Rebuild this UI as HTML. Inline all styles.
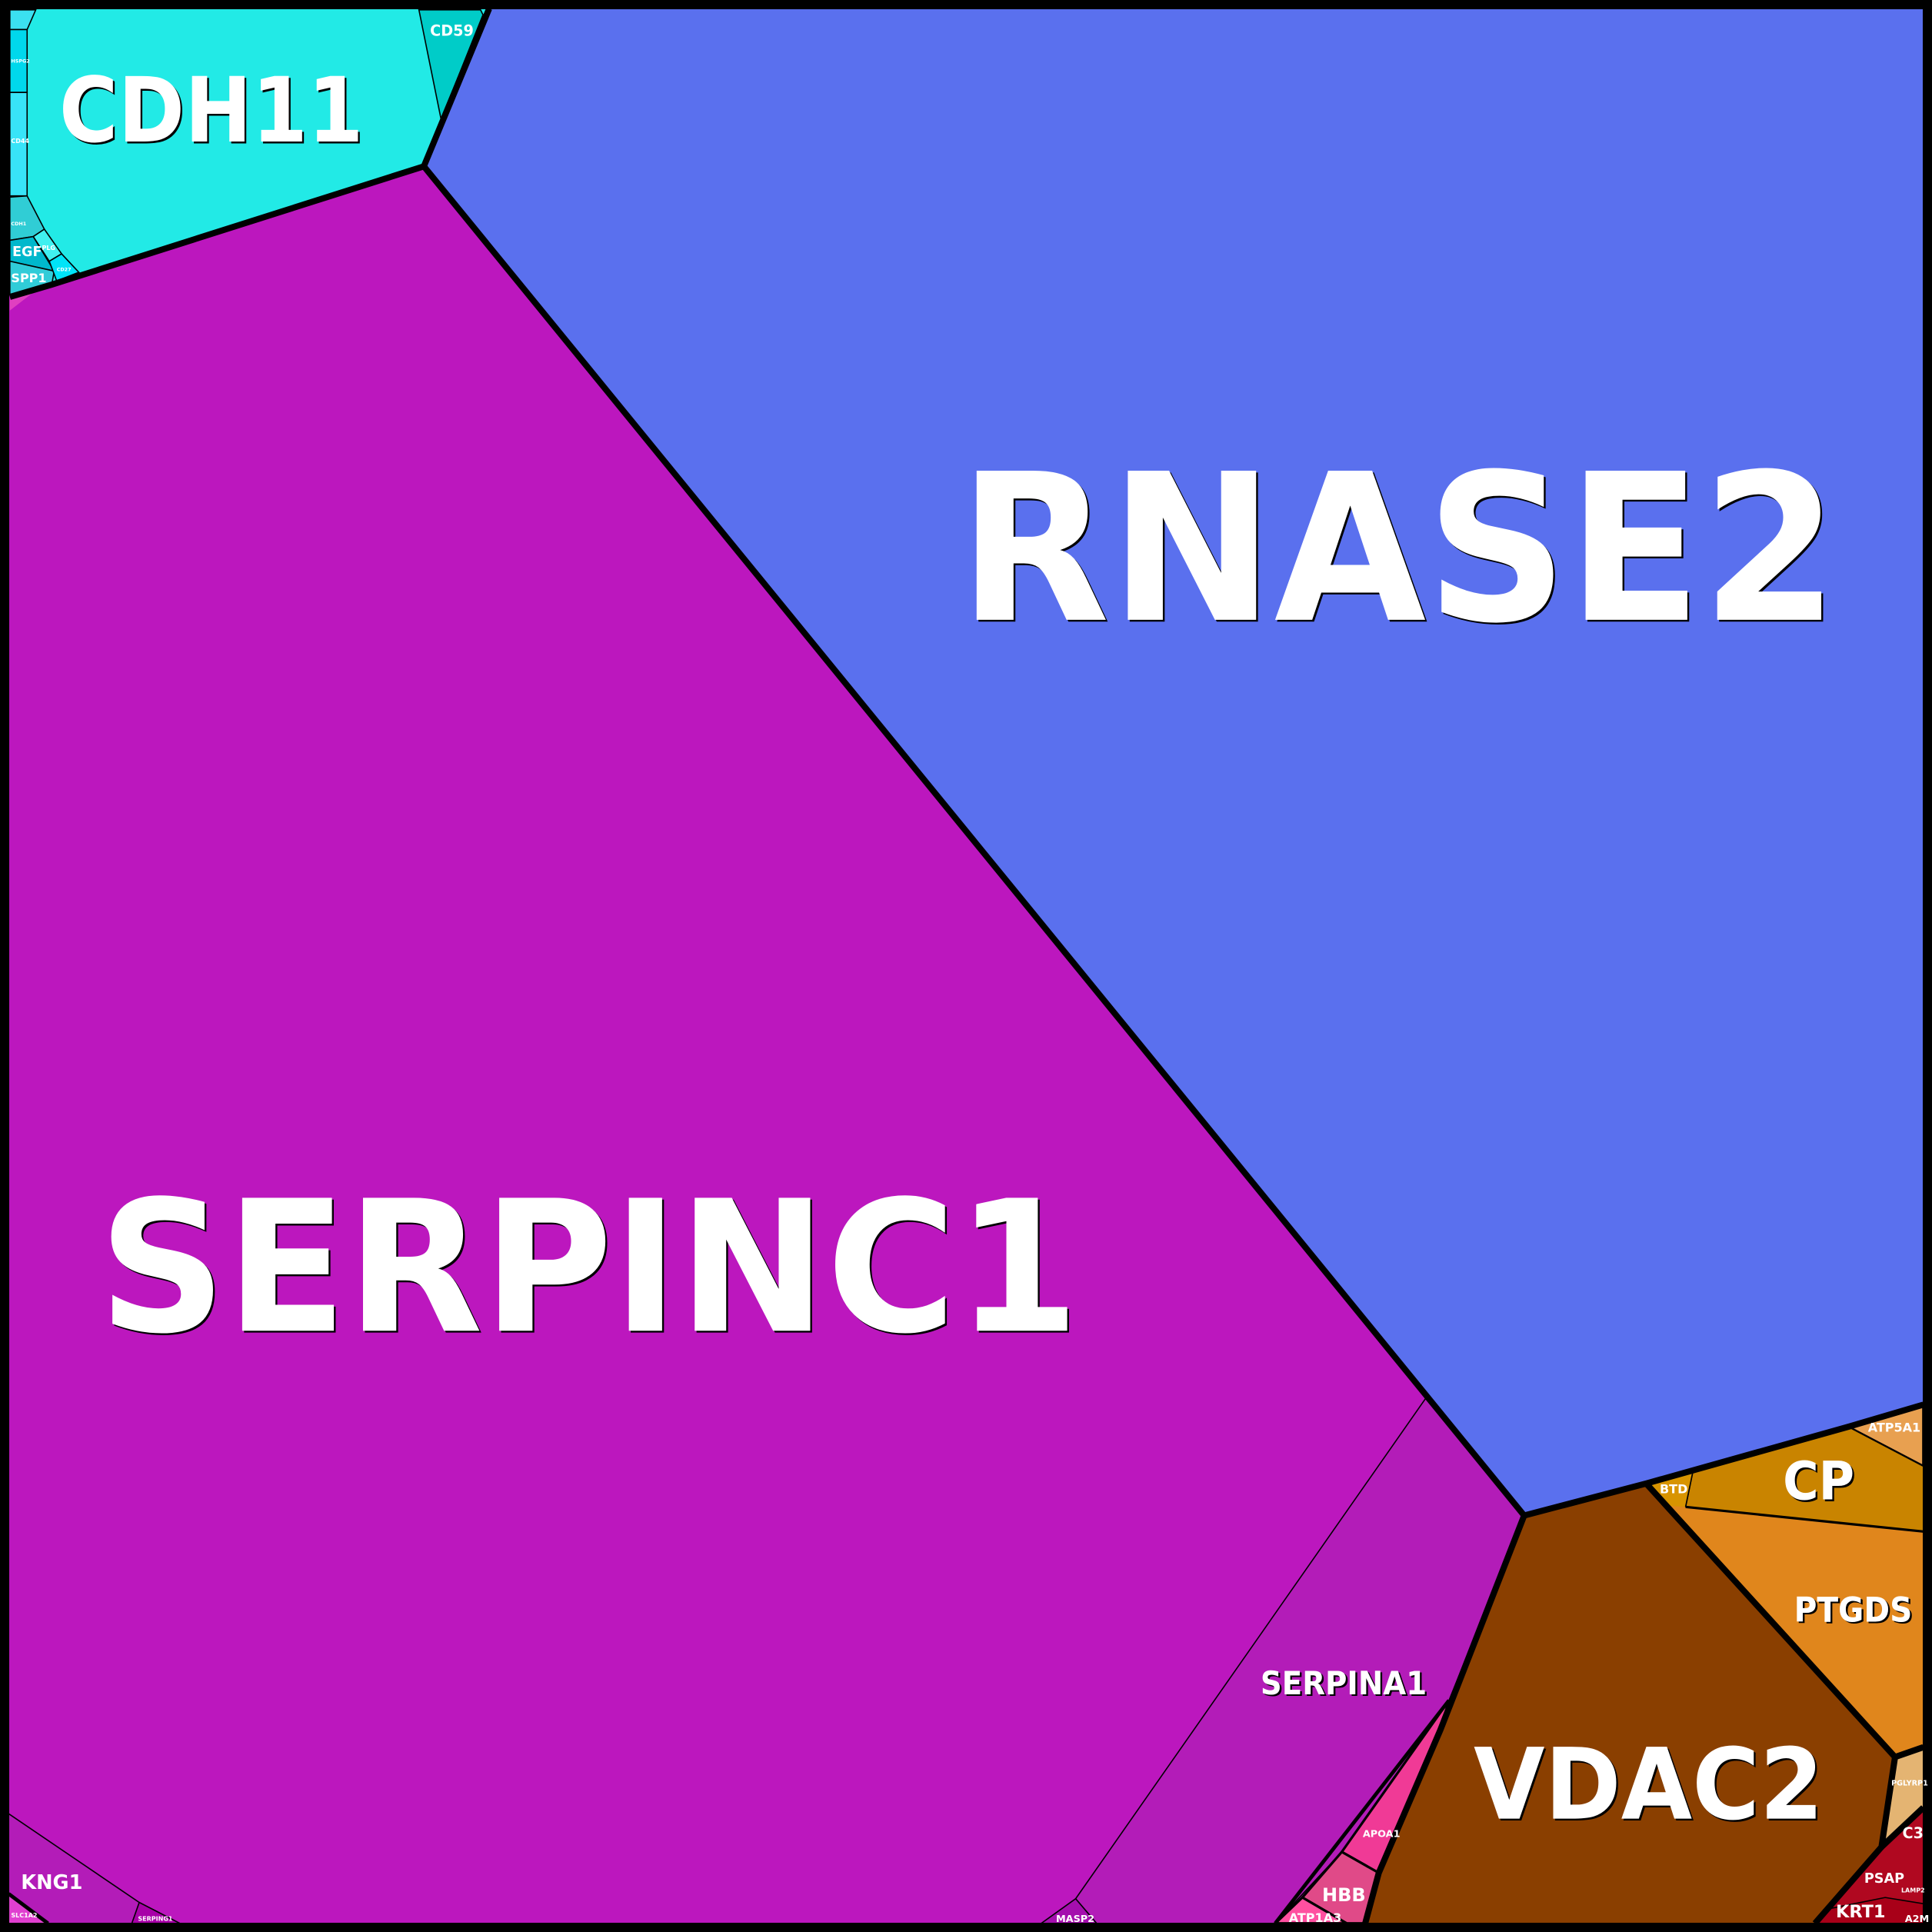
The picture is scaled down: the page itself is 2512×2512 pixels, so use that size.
<!DOCTYPE html>
<html><head><meta charset="utf-8"><style>
html,body{margin:0;padding:0;background:#000;}
svg{display:block;}
text{font-family:"DejaVu Sans","Liberation Sans",sans-serif;font-weight:bold;}
</style></head><body>
<svg width="2512" height="2512" viewBox="0 0 1568 1568" xmlns="http://www.w3.org/2000/svg">
<rect x="0" y="0" width="1568" height="1568" fill="#000"/>
<rect x="7" y="7" width="1554" height="1554" fill="#BC17BE"/>
<polygon points="1157,1135 1237,1230 1176,1380 1089,1503 1035,1561 890,1561 873,1541" fill="#B31CB8" stroke="#000" stroke-width="1"/>
<polygon points="873,1541 845,1561 890,1561" fill="#A50FAE" stroke="#000" stroke-width="1"/>
<polygon points="7,1472 113,1544 146,1561 7,1561" fill="#B31CB8" stroke="#000" stroke-width="1"/>
<polygon points="113,1544 107,1561 146,1561" fill="#A800A8" stroke="#000" stroke-width="1"/>
<polygon points="7,1537 39,1561 7,1561" fill="#E040D0"/>
<line x1="7" y1="1537" x2="39" y2="1561" stroke="#000" stroke-width="3"/>
<polygon points="397,7 1561,7 1561,1140 1500,1158 1336,1204 1237,1230 344,135" fill="#5A70EE"/>
<polygon points="8,7 397,7 344,135 42,231 8,241" fill="#22EAE6"/>
<polygon points="340,8 390,8 392,12 358,97" fill="#00CCC8" stroke="#000" stroke-width="1"/>
<polygon points="8,8 29,8 22,24 8,24" fill="#3BE0F0" stroke="#000" stroke-width="1"/>
<polygon points="8,24 22,24 22,75 8,75" fill="#00D8EC" stroke="#000" stroke-width="1"/>
<polygon points="8,75 22,75 22,159 8,159" fill="#38E4F8" stroke="#000" stroke-width="1"/>
<polygon points="8,160 22,159 36,186 27,192 8,195" fill="#30CDD5" stroke="#000" stroke-width="1"/>
<polygon points="8,195 27,192 44,220 8,212" fill="#00B8CC" stroke="#000" stroke-width="1"/>
<polygon points="8,212 44,220 42,231 8,239" fill="#30CCD8" stroke="#000" stroke-width="1"/>
<polygon points="27,192 36,186 50,206 40,212" fill="#40F0F0" stroke="#000" stroke-width="1"/>
<polygon points="40,212 50,206 64,221 46,228" fill="#00E4F8" stroke="#000" stroke-width="1"/>
<polygon points="8,241 30,235 8,252" fill="#E040C0"/>
<polygon points="1176,1380 1169,1404 1119,1520 1089,1503" fill="#F03A96" stroke="#000" stroke-width="2"/>
<polygon points="1089,1503 1119,1520 1108,1561 1093,1561 1057,1540" fill="#E04A88" stroke="#000" stroke-width="2"/>
<polygon points="1057,1540 1093,1561 1035,1561" fill="#FF50A0" stroke="#000" stroke-width="2"/>
<polygon points="1237,1230 1336,1204 1538,1426 1527,1499 1473,1561 1108,1561 1119,1520 1169,1404" fill="#8A3F00"/>
<polygon points="1500,1158 1561,1140 1561,1190" fill="#E8A050" stroke="#000" stroke-width="2"/>
<polygon points="1374,1194 1500,1158 1561,1190 1561,1243 1368,1223" fill="#C98400" stroke="#000" stroke-width="1"/>
<polygon points="1368,1223 1561,1243 1561,1418 1538,1426 1336,1204 1374,1194" fill="#E0861C"/>
<polygon points="1336,1204 1374,1194 1368,1223 1352,1222" fill="#D89400"/>
<line x1="1368" y1="1223" x2="1561" y2="1243" stroke="#000" stroke-width="2"/>
<line x1="1374" y1="1194" x2="1368" y2="1223" stroke="#000" stroke-width="1"/>
<polygon points="1538,1426 1561,1418 1561,1467 1527,1499" fill="#E4B472" stroke="#000" stroke-width="1"/>
<polygon points="1527,1499 1561,1467 1561,1561 1473,1561" fill="#B00820" stroke="#000" stroke-width="1"/>
<polygon points="1480,1550 1530,1540 1561,1545 1561,1561 1473,1561" fill="#A80018" stroke="#000" stroke-width="1"/>
<g fill="none" stroke="#000" stroke-width="5" stroke-linejoin="round">
<polyline points="397,7 344,135 1237,1230 1336,1204 1500,1158 1561,1140"/>
<polyline points="344,135 42,231 8,241"/>
<polyline points="1237,1230 1169,1404 1119,1520 1108,1561"/>
<polyline points="1336,1204 1538,1426 1527,1499 1473,1561"/>
<line x1="1538" y1="1426" x2="1561" y2="1418"/>
<line x1="1527" y1="1499" x2="1561" y2="1467"/>
</g>
<line x1="1176" y1="1380" x2="1035" y2="1561" stroke="#000" stroke-width="3"/>
<rect x="3.5" y="3.5" width="1561" height="1561" fill="none" stroke="#000" stroke-width="8"/>
<g fill="#000" transform="translate(1.5,1.5)">
<text x="778" y="503" font-size="166" textLength="714" lengthAdjust="spacingAndGlyphs">RNASE2</text>
<text x="80" y="1080" font-size="148" textLength="796" lengthAdjust="spacingAndGlyphs">SERPINC1</text>
<text x="48" y="115" font-size="73" textLength="247" lengthAdjust="spacingAndGlyphs">CDH11</text>
<text x="1196" y="1476" font-size="80" textLength="284" lengthAdjust="spacingAndGlyphs">VDAC2</text>
<text x="1447" y="1217" font-size="43" textLength="58" lengthAdjust="spacingAndGlyphs">CP</text>
<text x="1456" y="1316" font-size="28" textLength="96" lengthAdjust="spacingAndGlyphs">PTGDS</text>
<text x="1023" y="1375" font-size="26" textLength="135" lengthAdjust="spacingAndGlyphs">SERPINA1</text>
</g>
<g fill="#fff">
<text x="778" y="503" font-size="166" textLength="714" lengthAdjust="spacingAndGlyphs">RNASE2</text>
<text x="80" y="1080" font-size="148" textLength="796" lengthAdjust="spacingAndGlyphs">SERPINC1</text>
<text x="48" y="115" font-size="73" textLength="247" lengthAdjust="spacingAndGlyphs">CDH11</text>
<text x="1196" y="1476" font-size="80" textLength="284" lengthAdjust="spacingAndGlyphs">VDAC2</text>
<text x="1447" y="1217" font-size="43" textLength="58" lengthAdjust="spacingAndGlyphs">CP</text>
<text x="1456" y="1316" font-size="28" textLength="96" lengthAdjust="spacingAndGlyphs">PTGDS</text>
<text x="1023" y="1375" font-size="26" textLength="135" lengthAdjust="spacingAndGlyphs">SERPINA1</text>
<text x="349" y="29" font-size="12">CD59</text>
<text x="17" y="1533" font-size="16">KNG1</text>
<text x="1073" y="1543" font-size="15">HBB</text>
<text x="1046" y="1560" font-size="10">ATP1A3</text>
<text x="1106" y="1491" font-size="8">APOA1</text>
<text x="857" y="1560" font-size="8">MASP2</text>
<text x="1347" y="1212" font-size="10">BTD</text>
<text x="1516" y="1162" font-size="10">ATP5A1</text>
<text x="1513" y="1528" font-size="11">PSAP</text>
<text x="1490" y="1556" font-size="14">KRT1</text>
<text x="1546" y="1560" font-size="8">A2M</text>
<text x="1544" y="1492" font-size="12">C3</text>
<text x="1535" y="1449" font-size="6">PGLYRP1</text>
<text x="1543" y="1536" font-size="5">LAMP2</text>
<text x="10" y="208" font-size="11">EGF</text>
<text x="9" y="229" font-size="10">SPP1</text>
<text x="9" y="1556" font-size="5">SLC1A2</text>
<text x="112" y="1559" font-size="5">SERPING1</text>
<text x="9" y="116" font-size="5">CD44</text>
<text x="9" y="51" font-size="4">HSPG2</text>
<text x="34" y="203" font-size="5">PLG</text>
<text x="46" y="220" font-size="4">CD27</text>
<text x="9" y="183" font-size="4">CDH1</text>
</g>
</svg>
</body></html>
